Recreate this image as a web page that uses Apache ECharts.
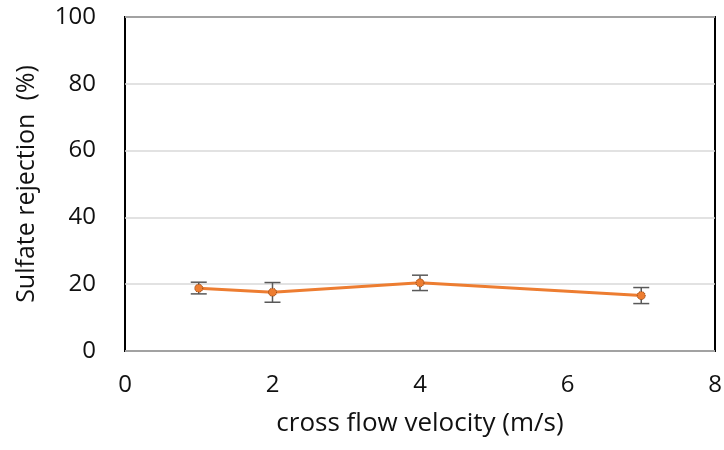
<!DOCTYPE html>
<html><head><meta charset="utf-8">
<script src="https://cdn.jsdelivr.net/npm/echarts@6/dist/echarts.min.js"></script>
<style>html,body{margin:0;padding:0;background:#fff}#c{width:724px;height:450px}</style>
</head><body><div id="c"></div>
<script>
const velocity = [1, 2, 4, 7];
const rejection = [18.8, 17.6, 20.4, 16.6];
const errLow = [17.1, 14.6, 18.1, 14.2];
const errHigh = [20.6, 20.5, 22.7, 19.0];
const xTicks = [0, 2, 4, 6, 8];
const yTicks = [0, 20, 40, 60, 80, 100];

const font = '"Open Sans", sans-serif';
const txt = '#111';
const chart = echarts.init(document.getElementById('c'));
chart.setOption({
  animation: false,
  grid: {left: 125, top: 17, right: 9, bottom: 99, containLabel: false, outerBoundsMode: 'none',
         show: true, borderColor: '#000', borderWidth: 2, backgroundColor: '#fff'},
  xAxis: {
    type: 'value', min: xTicks[0], max: xTicks[xTicks.length-1], interval: 2,
    name: 'cross flow velocity (m/s)', nameLocation: 'middle', nameGap: 60,
    nameTextStyle: {fontFamily: font, fontSize: 26, color: txt},
    axisLine: {show: false}, axisTick: {show: false}, splitLine: {show: false},
    axisLabel: {fontFamily: font, fontSize: 24, color: txt, margin: 22}
  },
  yAxis: {
    type: 'value', min: yTicks[0], max: yTicks[yTicks.length-1], interval: 20,
    name: 'Sulfate rejection  (%)', nameLocation: 'middle', nameGap: 86,
    nameTextStyle: {fontFamily: font, fontSize: 25, color: txt},
    axisLine: {show: false}, axisTick: {show: false},
    splitLine: {lineStyle: {color: '#d9d9d9', width: 1.5}},
    axisLabel: {fontFamily: font, fontSize: 24, color: txt, margin: 29}
  },
  series: [
    {
      type: 'line', data: velocity.map((v, i) => [v, rejection[i]]),
      lineStyle: {color: '#ED7D31', width: 3},
      symbol: 'circle', symbolSize: 8,
      itemStyle: {color: '#ED7D31', borderColor: '#7f3a0e', borderWidth: 1, borderType: 'dotted'},
      z: 3
    },
    {
      type: 'custom', z: 2,
      data: velocity.map((v, i) => [v, errLow[i], errHigh[i]]),
      renderItem: function (params, api) {
        const lo = api.coord([api.value(0), api.value(1)]);
        const hi = api.coord([api.value(0), api.value(2)]);
        const w = 8;
        const st = {stroke: '#595959', lineWidth: 1.5};
        return {type: 'group', children: [
          {type: 'line', shape: {x1: lo[0], y1: lo[1], x2: hi[0], y2: hi[1]}, style: st},
          {type: 'line', shape: {x1: lo[0]-w, y1: lo[1], x2: lo[0]+w, y2: lo[1]}, style: st},
          {type: 'line', shape: {x1: hi[0]-w, y1: hi[1], x2: hi[0]+w, y2: hi[1]}, style: st}
        ]};
      }
    }
  ]
});
</script></body></html>
